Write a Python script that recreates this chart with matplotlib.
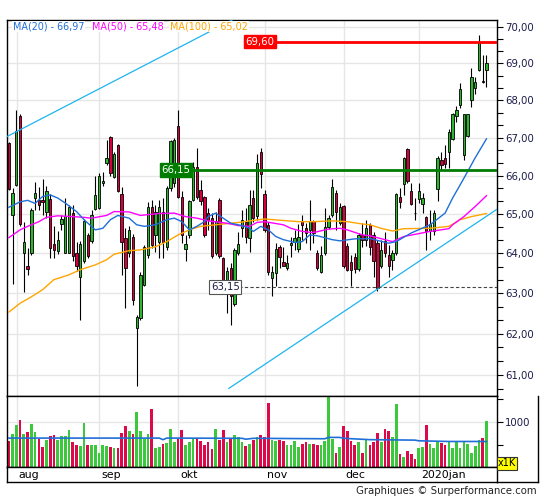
import matplotlib
matplotlib.use("Agg")
import matplotlib.pyplot as plt
from matplotlib.ticker import FixedLocator, NullFormatter, FuncFormatter
from matplotlib.lines import Line2D
import numpy as np

# daily candles, jul 30 2019 -> jan 28 2020
opens = [66.86, 64.98, 65.75, 67.57, 64.00, 63.69, 64.02, 65.43, 65.37, 65.37,
         65.07, 65.39, 64.25, 64.05, 64.75, 64.00, 64.00, 65.03, 64.00, 63.40,
         63.80, 64.47, 64.32, 65.14, 65.16, 65.81, 66.32, 67.03, 65.96, 66.81,
         65.52, 64.39, 64.00, 64.42, 62.14, 62.39, 63.21, 63.97, 65.20, 64.47,
         64.30, 65.06, 64.17, 65.68, 65.80, 67.30, 65.44, 64.11, 64.47, 65.37,
         66.24, 65.63, 65.44, 65.04, 64.90, 64.00, 65.37, 63.89, 63.05, 63.63,
         62.73, 64.00, 64.66, 64.79, 64.39, 65.42, 64.95, 66.62, 65.52, 64.73,
         63.38, 63.51, 64.16, 63.79, 63.63, 64.22, 64.30, 64.11, 64.83, 64.64,
         64.60, 64.82, 64.02, 63.53, 64.00, 64.67, 64.99, 65.54, 64.77, 65.21,
         64.19, 63.79, 63.91, 63.60, 64.47, 64.35, 64.73, 64.47, 64.26, 63.67,
         64.31, 63.97, 63.84, 64.00, 65.44, 65.79, 66.70, 65.61, 65.04, 65.39,
         65.26, 64.93, 64.56, 64.57, 65.65, 66.40, 66.46, 66.63, 66.97, 67.57,
         67.87, 66.55, 67.05, 68.00, 68.34, 68.82, 68.53, 68.82]
highs = [66.88, 65.68, 67.74, 67.62, 64.80, 64.13, 65.15, 65.83, 65.70, 65.92,
         65.73, 65.52, 64.71, 64.58, 64.99, 65.42, 65.24, 65.24, 64.30, 64.32,
         64.89, 64.52, 65.12, 66.00, 66.07, 66.10, 66.94, 67.05, 66.62, 66.83,
         65.70, 64.65, 64.70, 64.50, 62.47, 63.52, 64.22, 65.32, 65.37, 65.24,
         65.37, 65.42, 65.73, 66.95, 67.00, 67.74, 65.61, 64.47, 65.37, 66.37,
         66.73, 65.89, 65.48, 65.17, 65.04, 65.07, 65.42, 63.91, 63.65, 63.76,
         64.14, 64.55, 65.12, 65.15, 65.63, 65.63, 66.57, 66.73, 65.63, 64.80,
         63.67, 64.26, 64.22, 64.17, 63.97, 64.42, 64.60, 64.75, 64.99, 64.77,
         65.38, 64.86, 64.09, 64.19, 65.17, 64.99, 65.92, 65.63, 65.29, 65.24,
         64.27, 63.97, 64.01, 64.52, 64.78, 64.86, 64.78, 64.55, 64.35, 64.35,
         64.55, 64.22, 64.09, 65.55, 65.68, 66.50, 66.73, 65.81, 65.42, 65.81,
         65.55, 64.96, 65.12, 65.12, 66.52, 66.63, 66.81, 67.23, 67.66, 67.85,
         68.47, 67.63, 67.63, 68.87, 68.62, 69.79, 69.24, 69.24]
lows = [65.64, 63.24, 65.72, 64.70, 63.04, 63.46, 63.97, 65.12, 65.12, 64.99,
        64.90, 63.89, 63.89, 63.98, 64.60, 64.00, 64.00, 63.81, 63.55, 62.34,
        63.77, 63.89, 64.27, 65.12, 65.14, 65.73, 66.27, 65.99, 65.94, 65.58,
        63.46, 62.64, 63.90, 62.70, 60.73, 62.34, 63.18, 63.89, 64.14, 64.04,
        63.89, 63.89, 64.09, 65.60, 65.70, 65.42, 64.27, 63.81, 64.39, 65.35,
        65.40, 65.24, 64.42, 64.60, 63.89, 63.95, 63.89, 63.04, 62.52, 62.22,
        62.68, 63.95, 64.42, 64.27, 64.04, 64.80, 64.86, 65.68, 64.55, 63.45,
        62.92, 63.17, 63.63, 63.67, 63.59, 63.91, 64.09, 64.04, 64.35, 64.27,
        64.09, 64.27, 63.59, 63.50, 63.95, 64.62, 64.94, 64.60, 64.72, 63.63,
        63.55, 63.17, 63.50, 63.55, 64.17, 64.20, 63.97, 63.41, 63.06, 63.64,
        63.92, 63.40, 63.59, 63.97, 65.17, 65.50, 65.81, 65.24, 64.86, 65.29,
        65.04, 64.09, 64.35, 64.47, 65.33, 66.16, 66.21, 66.21, 66.94, 67.42,
        67.80, 66.42, 67.02, 67.83, 68.17, 68.80, 68.48, 68.36]
closes = [65.66, 65.55, 67.19, 64.75, 64.30, 63.60, 65.12, 65.55, 65.25, 65.32,
          65.60, 64.14, 64.08, 64.33, 64.88, 64.95, 65.18, 63.93, 63.67, 64.24,
          64.83, 63.93, 64.99, 65.51, 65.98, 65.87, 66.47, 66.07, 66.57, 65.61,
          64.28, 63.63, 64.60, 62.84, 62.41, 63.46, 64.17, 65.20, 64.22, 65.07,
          65.20, 64.30, 65.68, 66.90, 66.95, 65.44, 64.47, 64.24, 65.33, 66.24,
          65.44, 65.33, 64.47, 64.86, 63.93, 64.82, 63.93, 63.09, 63.55, 62.92,
          64.09, 64.24, 64.86, 64.43, 65.24, 64.90, 66.34, 66.04, 64.60, 63.52,
          63.52, 64.11, 63.91, 63.69, 63.76, 64.26, 64.40, 64.41, 64.72, 64.53,
          64.82, 64.53, 63.63, 63.97, 64.67, 64.90, 65.70, 65.07, 65.20, 63.69,
          63.59, 63.59, 63.60, 64.47, 64.35, 64.65, 64.17, 63.80, 63.13, 64.09,
          64.00, 63.67, 64.00, 65.52, 65.31, 66.46, 65.86, 65.26, 65.02, 65.61,
          65.42, 64.56, 64.75, 65.03, 66.46, 66.27, 66.31, 67.16, 67.63, 67.75,
          68.30, 67.63, 67.63, 68.62, 68.50, 69.60, 68.50, 69.00]
volumes = [585, 741, 941, 1052, 741, 785, 963, 770, 630, 452,
           608, 697, 719, 608, 697, 697, 830, 556, 496, 474,
           985, 496, 496, 496, 319, 496, 474, 452, 430, 430,
           763, 919, 808, 741, 1230, 808, 630, 741, 1297, 430,
           452, 519, 541, 852, 563, 630, 830, 496, 563, 630,
           630, 585, 496, 563, 408, 852, 608, 830, 563, 630,
           719, 674, 563, 474, 519, 608, 674, 719, 674, 1430,
           608, 585, 608, 585, 496, 496, 585, 452, 519, 563,
           519, 519, 496, 496, 585, 1600, 630, 319, 452, 919,
           808, 585, 496, 563, 319, 630, 496, 563, 763, 563,
           852, 808, 674, 1393, 296, 230, 363, 296, 185, 430,
           452, 941, 519, 430, 585, 541, 496, 585, 430, 563,
           430, 563, 519, 319, 474, 608, 652, 1030]

# moving averages (candle index, value)
ma20_idx = [0, 3, 5, 7, 9, 11, 13, 15, 18, 20, 23, 25, 27, 29, 32, 34, 36, 39, 42, 44,
            46, 48, 50, 52, 53, 55, 57, 59, 62, 64, 65, 67, 69, 71, 73, 76, 78, 80, 82,
            86, 88, 92, 96, 101, 103, 107, 112, 116, 118, 120, 122, 124, 127]
ma20_val = [65.18, 65.32, 65.36, 65.28, 65.46, 65.50, 65.42, 65.29, 65.07, 64.86,
            64.60, 64.64, 64.86, 64.97, 64.90, 64.73, 64.69, 64.73, 64.86, 64.90,
            64.81, 64.60, 64.69, 64.81, 64.94, 65.03, 64.90, 64.77, 64.71, 64.64,
            64.56, 64.69, 64.60, 64.43, 64.35, 64.28, 64.30, 64.47, 64.45, 64.35,
            64.32, 64.37, 64.38, 64.26, 64.30, 64.52, 64.73, 65.03, 65.42, 65.76,
            66.11, 66.47, 66.97]
ma50_idx = [0, 3, 5, 8, 10, 13, 17, 20, 22, 26, 28, 32, 35, 40, 44, 47, 50, 53, 58, 61,
            64, 66, 68, 73, 75, 78, 81, 85, 88, 90, 94, 96, 102, 105, 112, 117, 118,
            121, 124, 127]
ma50_val = [64.40, 64.60, 64.69, 64.81, 64.92, 64.96, 64.94, 64.92, 64.90, 64.97,
            65.07, 65.06, 64.97, 65.02, 65.03, 64.94, 64.90, 64.83, 64.77, 64.71,
            64.69, 64.79, 64.81, 64.73, 64.64, 64.56, 64.53, 64.62, 64.64, 64.60,
            64.47, 64.45, 64.30, 64.43, 64.56, 64.63, 64.73, 64.94, 65.20, 65.48]
ma100_idx = [0, 3, 6, 9, 12, 16, 19, 23, 26, 28, 32, 35, 39, 42, 45, 48, 51, 55, 59, 62,
             64, 68, 73, 77, 81, 86, 90, 94, 96, 99, 102, 105, 112, 117, 120, 123, 127]
ma100_val = [62.53, 62.75, 62.91, 63.09, 63.34, 63.46, 63.59, 63.71, 63.84, 63.98,
             64.07, 64.09, 64.17, 64.30, 64.47, 64.60, 64.69, 64.73, 64.77, 64.80,
             64.83, 64.88, 64.84, 64.81, 64.81, 64.83, 64.81, 64.75, 64.73, 64.64,
             64.57, 64.63, 64.64, 64.69, 64.86, 64.94, 65.02]
vma_idx = [0, 40, 41, 42, 62, 63, 65, 84, 85, 88, 89, 96, 108, 109, 117, 127]
vma_val = [645, 645, 610, 645, 640, 620, 640, 630, 660, 660, 640, 610, 600, 585, 570, 570]

# trend channel lines (index, price)
trend_up_x, trend_up_y = [-0.5, 60.0], [67.03, 70.23]
trend_dn_x, trend_dn_y = [58.5, 129.8], [60.67, 65.13]

# horizontal levels
resist, resist_start = 69.60, 62.9
pivot, pivot_start = 66.15, 40.6
support, support_start = 63.15, 53.7

month_idx = [2, 24, 45, 68, 89, 109]
month_names = ['aug', 'sep', 'okt', 'nov', 'dec', '2020jan']

legend_items = [('MA(20)', 66.97, '#1f6fd8'), ('MA(50)', 65.48, '#ff00ff'), ('MA(100)', 65.02, '#ffa500')]

GREEN, RED = '#2db52d', '#d6003c'
VGREEN, VRED = '#3cc83c', '#dc0a4b'
TREND = '#1eb4f0'
LABEL = '#1a1a4a'


def fmt(v):
    return f"{v:.2f}".replace('.', ',')


o = np.array(opens); h = np.array(highs); l = np.array(lows); c = np.array(closes)
x = np.arange(len(c))
up = c >= o
XMIN, XMAX = -0.48, 129.8

fig = plt.figure(figsize=(5.45, 5.0), dpi=100)
W, H = 545.0, 500.0
ax = fig.add_axes([7 / W, 1 - 395.5 / H, 490 / W, 376 / H])
axv = fig.add_axes([7 / W, 1 - 467.3 / H, 490 / W, 71.8 / H])
axd = fig.add_axes([7 / W, 1 - 482 / H, 490 / W, 14.7 / H])

# price panel
ax.set_yscale('log')
ax.set_xlim(XMIN, XMAX)
ax.set_ylim(60.50, 70.21)
for m in month_idx:
    ax.axvline(m + 0.1, color='#e6e6e6', lw=1, zorder=0)
ax.yaxis.tick_right()
ax.yaxis.set_major_locator(FixedLocator(range(61, 71)))
ax.yaxis.set_major_formatter(FuncFormatter(lambda v, p: fmt(v)))
ax.yaxis.set_minor_locator(FixedLocator([k + j / 3 for k in range(60, 71) for j in (1, 2)]))
ax.yaxis.set_minor_formatter(NullFormatter())
ax.tick_params(axis='y', which='major', length=4, width=0.8, labelsize=7.3, pad=2, labelcolor=LABEL)
ax.tick_params(axis='y', which='minor', length=4, width=0.8)
ax.tick_params(axis='x', which='both', bottom=False, labelbottom=False)
ax.grid(axis='y', which='major', color='#e6e6e6', lw=1, zorder=0)
ax.set_axisbelow(True)

ax.vlines(x, l, h, color='black', lw=0.8, zorder=3)
body = np.maximum(np.abs(c - o), 0.012)
ax.bar(x, body, bottom=np.minimum(o, c), width=0.62, color=np.where(up, GREEN, RED),
       edgecolor='black', linewidth=0.6, zorder=4)

ax.plot(ma100_idx, ma100_val, color='#ffa500', lw=1, zorder=5)
ax.plot(ma50_idx, ma50_val, color='#ff00ff', lw=1, zorder=5)
ax.plot(ma20_idx, ma20_val, color='#1f6fd8', lw=1, zorder=5)
ax.plot(trend_up_x, trend_up_y, color=TREND, lw=0.9, zorder=5)
ax.plot(trend_dn_x, trend_dn_y, color=TREND, lw=0.9, zorder=5)

ax.hlines(resist, resist_start, XMAX, color='#ff0000', lw=2, zorder=6)
ax.hlines(pivot, pivot_start, XMAX, color='#007d00', lw=2, zorder=6)
ax.hlines(support, support_start, XMAX, color='#444444', lw=0.8, linestyles=(0, (3, 2)), zorder=6)
ax.text(resist_start, resist, fmt(resist), ha='left', va='center', color='white', fontsize=7.3, zorder=7,
        bbox=dict(boxstyle='square,pad=0.18', fc='#ff0000', ec='#ff0000'))
ax.text(pivot_start, pivot, fmt(pivot), ha='left', va='center', color='white', fontsize=7.3, zorder=7,
        bbox=dict(boxstyle='square,pad=0.18', fc='#007d00', ec='#007d00'))
ax.text(support_start, support, fmt(support), ha='left', va='center', color=LABEL, fontsize=7.3, zorder=7,
        bbox=dict(boxstyle='square,pad=0.18', fc='white', ec='#555555', lw=0.8))

lx = [6, 84.5, 163]
for (name, val, col), px in zip(legend_items, lx):
    ax.text(px / 490, 1 - 7 / 376, f"{name} - {fmt(val)}", transform=ax.transAxes, ha='left', va='center',
            color=col, fontsize=6.9, zorder=8,
            bbox=dict(boxstyle='square,pad=0.1', fc='white', ec='none'))

# volume panel
axv.set_xlim(XMIN, XMAX)
axv.set_ylim(0, 1585)
for m in month_idx:
    axv.axvline(m + 0.1, color='#e6e6e6', lw=1, zorder=0)
axv.axhline(1000, color='#e6e6e6', lw=1, zorder=0)
axv.bar(x, volumes, width=0.72, color=np.where(up, VGREEN, VRED), zorder=2)
axv.plot(vma_idx, vma_val, color='#1f6fd8', lw=1.2, zorder=3)
axv.yaxis.tick_right()
axv.set_yticks([1000])
axv.set_yticklabels(['1000'])
axv.set_yticks([500, 1500], minor=True)
axv.tick_params(axis='y', which='both', length=4, width=0.8, labelsize=7.3, pad=2, labelcolor=LABEL)
axv.tick_params(axis='x', which='both', bottom=False, labelbottom=False)

# date strip
axd.set_xlim(XMIN, XMAX)
axd.set_ylim(0, 1)
axd.set_xticks([])
axd.set_yticks([])
for m, name in zip(month_idx, month_names):
    axd.text(m + 0.6, 0.45, name, ha='left', va='center', fontsize=7.9, color='black')

for a in (ax, axv, axd):
    for s in a.spines.values():
        s.set_linewidth(1)
        s.set_color('black')

fig.add_artist(Line2D([538 / W, 538 / W], [1 - 395.5 / H, 1 - 482 / H], color='black', lw=1))
fig.add_artist(Line2D([497 / W, 538 / W], [1 - 482 / H, 1 - 482 / H], color='black', lw=1))
fig.text(498 / W, 1 - 463.5 / H, 'x1K', ha='left', va='center', fontsize=7, color='black',
         bbox=dict(boxstyle='square,pad=0.12', fc='#ffff00', ec='#333333', lw=0.8))
fig.text(537 / W, 1 - 491 / H, 'Graphiques © Surperformance.com', ha='right', va='center',
         fontsize=7.3, color='#222222')

fig.savefig('out.png', dpi=100)
